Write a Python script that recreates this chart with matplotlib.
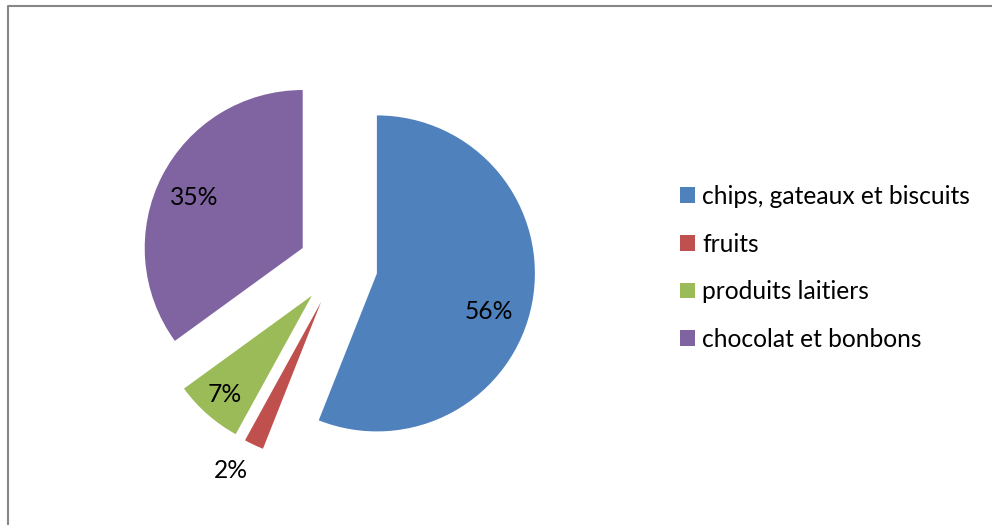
import numpy as np
import matplotlib
matplotlib.use("Agg")
import matplotlib.pyplot as plt
from matplotlib.lines import Line2D

plt.rcParams['font.family'] = ['Lato', 'DejaVu Sans']

categories = ["chips, gateaux et biscuits", "fruits", "produits laitiers", "chocolat et bonbons"]
shares = [56, 2, 7, 35]
colors = ["#4F81BD", "#C0504D", "#9BBB59", "#8064A2"]

W, H = 992, 525
fig = plt.figure(figsize=(W / 100, H / 100), dpi=100)
ax = fig.add_axes([0, 0, 1, 1])

radius = 158
offset = 39.6
wedges, _ = ax.pie(shares, explode=[offset] * len(shares), radius=radius,
                   center=(338, H - 266), startangle=90, counterclock=False,
                   colors=colors, wedgeprops=dict(linewidth=0), frame=True)
ax.set_xlim(0, W)
ax.set_ylim(0, H)
ax.set_aspect('equal')
ax.axis('off')

# percentage labels, positioned relative to each exploded wedge
label_dist = [0.75, 1.21, 0.83, 0.76]
label_shift = [-8, -3, 0, 2]
for w, v, d, s in zip(wedges, shares, label_dist, label_shift):
    mid = np.deg2rad(0.5 * (w.theta1 + w.theta2) + s)
    cx, cy = w.center
    ax.text(cx + d * radius * np.cos(mid), cy + d * radius * np.sin(mid), f"{v}%",
            ha='center', va='center', fontsize=17.7, color='black')

ax.legend(wedges, categories, loc='upper left', bbox_to_anchor=(680 / W, 1 - 185 / H),
          bbox_transform=fig.transFigure, frameon=False, fontsize=17.7,
          handlelength=0.61, handleheight=0.61, handletextpad=0.3, labelspacing=1.0,
          borderaxespad=0, borderpad=0)

# chart area border (top and left edges)
ax.add_line(Line2D([7.5, 7.5, W], [0, H - 5.5, H - 5.5], color="#878787", lw=1.5))

fig.savefig("out.png", dpi=100)
